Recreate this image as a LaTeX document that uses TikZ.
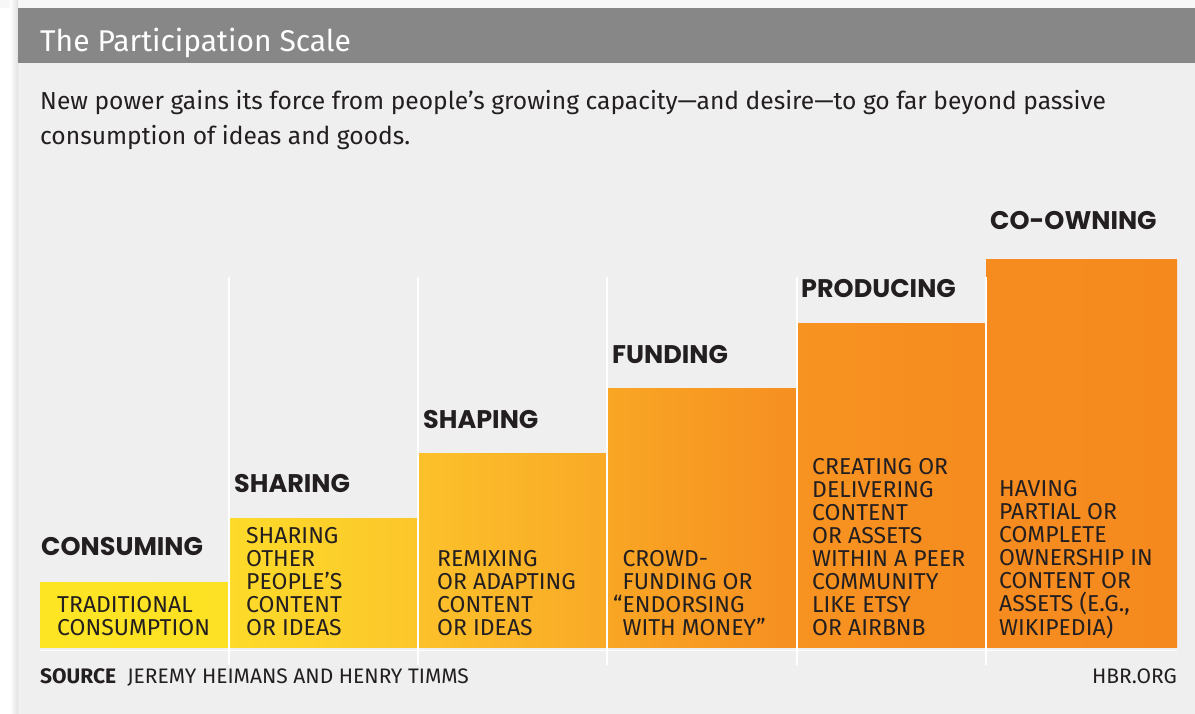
\documentclass[tikz,border=0pt]{standalone}
\usepackage{fontspec}
\setmainfont{Fira Sans}
\newfontfamily\descfont{Fira Sans}
\newfontfamily\headfont{Poppins}
\usetikzlibrary{positioning}
\definecolor{pagebg}{HTML}{EFEFEF}
\definecolor{barbg}{HTML}{878787}
\definecolor{ink}{HTML}{231F20}
\definecolor{cA}{HTML}{FDE524}
\definecolor{cB}{HTML}{FDE124}
\definecolor{cC}{HTML}{FDDB2A}
\definecolor{cD}{HTML}{FCC62A}
\definecolor{cE}{HTML}{FCC12A}
\definecolor{cF}{HTML}{F9A927}
\definecolor{cG}{HTML}{F9A624}
\definecolor{cH}{HTML}{F68F21}
\definecolor{cI}{HTML}{F79320}
\definecolor{cJ}{HTML}{F68B1F}
\definecolor{cK}{HTML}{F68C1F}
\definecolor{cL}{HTML}{F5891E}
\tikzset{
  x=1pt, y=-1pt,
  head/.style={anchor=base west, inner sep=0pt, font=\headfont\bfseries\fontsize{25.5}{25.5}\selectfont, text=ink},
  desc/.style={anchor=south west, inner sep=0pt, text depth=0pt, align=left, font=\descfont\fontsize{23}{23}\selectfont, text=ink},
  sep/.style={draw=white, line width=1.6pt},
  foot/.style={inner sep=0pt, text=ink, font=\fontsize{21}{21}\selectfont},
}
\begin{document}
\begin{tikzpicture}
\useasboundingbox (0,0) rectangle (1195,714);
\fill[pagebg] (0,0) rectangle (1195,714);
\fill[white] (0,0) rectangle (18,714);
\fill[white!97!black] (0,0) rectangle (1195,8);
\shade[left color=white, right color=black!12] (10,0) rectangle (18,714);
\fill[barbg] (18,8) rectangle (1195,63);
\node[anchor=base west, inner sep=0pt, text=white, font=\fontsize{30}{30}\selectfont] (title) at (40,52) {The Participation Scale};
\node[anchor=base west, inner sep=0pt, text=ink, align=left, font=\fontsize{24.6}{35}\selectfont] (intro) at (40,145)
  {New power gains its force from people’s growing capacity—and desire—to go far beyond passive\\consumption of ideas and goods.};

% bars
\shade[left color=cA, right color=cB] (40,582) rectangle (229,647);
\shade[left color=cC, right color=cD] (229,518) rectangle (418,647);
\shade[left color=cE, right color=cF] (418,453) rectangle (607,647);
\shade[left color=cG, right color=cH] (607,388) rectangle (797,647);
\shade[left color=cI, right color=cJ] (797,324) rectangle (986,647);
\shade[left color=cK, right color=cL] (986,260) rectangle (1177,647);

% separators
\coordinate (s1t) at (229,277); \coordinate (s1b) at (229,665);
\coordinate (s2t) at (418,277); \coordinate (s2b) at (418,665);
\coordinate (s3t) at (607,277); \coordinate (s3b) at (607,665);
\coordinate (s4t) at (797,277); \coordinate (s4b) at (797,665);
\coordinate (s5t) at (986,277); \coordinate (s5b) at (986,665);
\draw[sep] (s1t) -- (s1b);
\draw[sep] (s2t) -- (s2b);
\draw[sep] (s3t) -- (s3b);
\draw[sep] (s4t) -- (s4b);
\draw[sep] (s5t) -- (s5b);
\draw[draw=white, line width=1pt] (40,650) -- (1177,650);

% headings
\node[head] (h1) at (41,555) {CONSUMING};
\node[head] (h2) at (234,492) {SHARING};
\node[head] (h3) at (423,428) {SHAPING};
\node[head] (h4) at (612,363) {FUNDING};
\node[head] (h5) at (801,298) {PRODUCING};
\node[head] (h6) at (990,230) {CO-OWNING};

% descriptions
\node[desc] (d1) at (57,636) {TRADITIONAL\\CONSUMPTION};
\node[desc] (d2) at (246,636) {SHARING\\OTHER\\PEOPLE’S\\CONTENT\\OR IDEAS};
\node[desc] (d3) at (437,636) {REMIXING\\OR ADAPTING\\CONTENT\\OR IDEAS};
\node[desc] (d4) at (613,636) {\hphantom{“}CROWD-\\\hphantom{“}FUNDING OR\\“ENDORSING\\\hphantom{“}WITH MONEY”};
\node[desc] (d5) at (812,636) {CREATING OR\\DELIVERING\\CONTENT\\OR ASSETS\\WITHIN A PEER\\COMMUNITY\\LIKE ETSY\\OR AIRBNB};
\node[desc] (d6) at (999,636) {HAVING\\PARTIAL OR\\COMPLETE\\OWNERSHIP IN\\CONTENT OR\\ASSETS (E.G.,\\WIKIPEDIA)};

% footer
\node[foot, anchor=base west] (src) at (40,683) {\textbf{SOURCE}\ \ JEREMY HEIMANS AND HENRY TIMMS};
\node[foot, anchor=base east] (hbr) at (1177,683) {HBR.ORG};
\end{tikzpicture}
\end{document}
